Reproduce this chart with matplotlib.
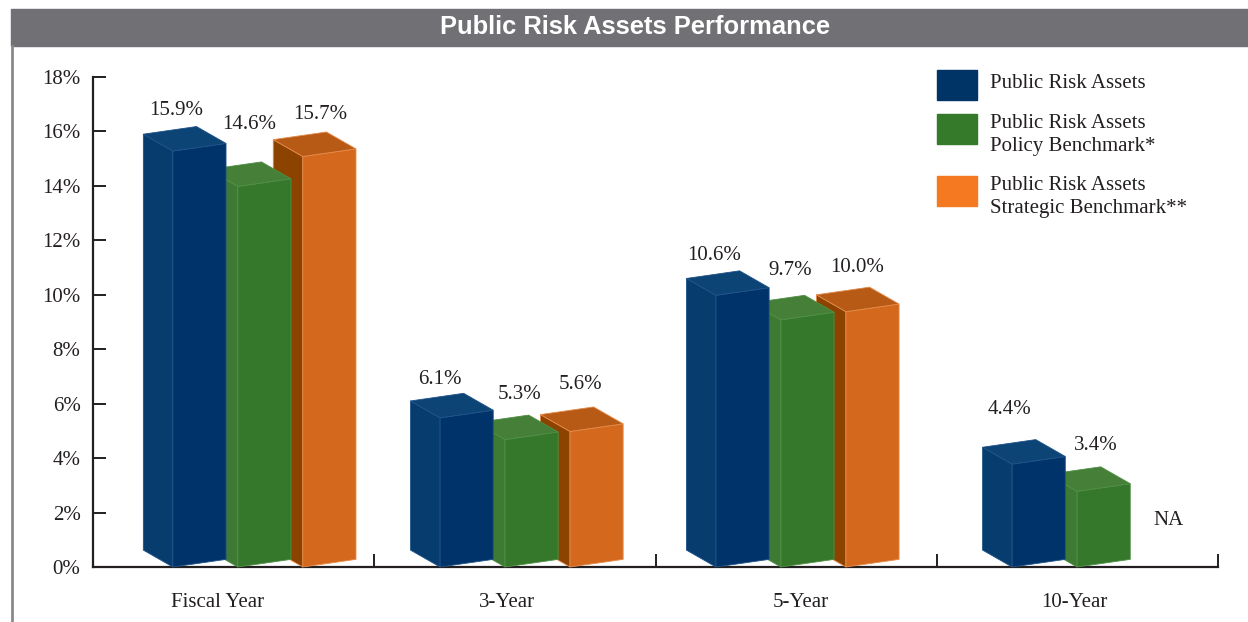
import numpy as np
import matplotlib.pyplot as plt
from matplotlib.patches import Rectangle
from matplotlib.lines import Line2D

# data
categories = ['Fiscal Year', '3-Year', '5-Year', '10-Year']
series_names = ['Public Risk Assets',
                'Public Risk Assets\nPolicy Benchmark*',
                'Public Risk Assets\nStrategic Benchmark**']
risk_assets = [15.9, 6.1, 10.6, 4.4]
policy_bm = [14.6, 5.3, 9.7, 3.4]
strategic_bm = [15.7, 5.6, 10.0, np.nan]   # 10-Year not available
yticks = [0, 2, 4, 6, 8, 10, 12, 14, 16, 18]

series = [risk_assets, policy_bm, strategic_bm]

# colours: front, side, top, legend
front_cols = ['#00336a', '#35782b', '#d4691e']
side_cols = ['#073d6e', '#3e7a33', '#8c4300']
top_cols = ['#0b4475', '#467f38', '#b75a15']
legend_cols = ['#003366', '#357a2b', '#f47920']
edge_cols = ['#1f5288', '#4f8f45', '#e58a48']

# pseudo-3d geometry (category units / percent)
W = 0.189        # front face width
STEP = 0.231     # distance between bars in a group
SDX = 0.105      # depth offset to the left
SDY = 0.62       # depth offset upward
SLOPE = 0.28     # perspective tilt of the front face
group_shift = [0.109, 0.059, 0.040, 0.093]
label_pos = [0.444, 1.472, 2.517, 3.488]
# value label placement relative to the bar (x in category units, y in %)
label_dx = [[0.012, 0.0, -0.007, -0.011],
            [0.041, 0.052, 0.032, 0.068],
            [0.062, 0.039, 0.039, 0.33]]
label_dy = [[0.88, 0.77, 0.86, 1.4],
            [1.64, 1.05, 1.19, 1.08],
            [0.91, 1.09, 1.02, 1.0]]

serif = 'Liberation Serif'
FS = 15

fig = plt.figure(figsize=(12.48, 6.22), dpi=100)
ax = fig.add_axes([93 / 1248, 55 / 622, 1125 / 1248, 490 / 622])

for i in range(len(categories)):
    x0 = i + 0.175 + group_shift[i]
    for j in reversed(range(3)):
        v = series[j][i]
        xf = x0 + j * STEP
        z = 10 - j
        if np.isnan(v):
            ax.text(xf + W / 2, 1.7, 'NA', ha='center', va='center',
                    fontsize=FS, family=serif, color='#231f20')
            continue
        side = [(xf - SDX, SDY), (xf, 0), (xf, v - SDY), (xf - SDX, v)]
        front = [(xf, 0), (xf + W, SLOPE), (xf + W, v - SDY + SLOPE), (xf, v - SDY)]
        top = [(xf, v - SDY), (xf + W, v - SDY + SLOPE), (xf + W - SDX, v + SLOPE), (xf - SDX, v)]
        for poly, col in [(side, side_cols[j]), (front, front_cols[j]), (top, top_cols[j])]:
            xs, ys = zip(*poly)
            ax.fill(xs, ys, color=col, ec=edge_cols[j], lw=0.6, zorder=z, clip_on=False)
        ax.text(xf + label_dx[j][i], v + label_dy[j][i], f'{v:.1f}%', ha='center', va='center',
                fontsize=FS, family=serif, color='#231f20')

ax.set_xlim(0, 4)
ax.set_ylim(0, 18)
ax.spines['top'].set_visible(False)
ax.spines['right'].set_visible(False)
for s in ['left', 'bottom']:
    ax.spines[s].set_color('#231f20')
    ax.spines[s].set_linewidth(1.6)

ax.set_yticks(yticks)
ax.set_yticklabels([f'{t}%' for t in yticks], family=serif, fontsize=FS, color='#231f20')
ax.tick_params(axis='y', direction='in', length=9.5, width=1.4, color='#231f20', pad=9)

ax.set_xticks(label_pos)
ax.set_xticklabels(categories, family=serif, fontsize=FS, color='#231f20')
ax.tick_params(axis='x', which='major', length=0, pad=19)
ax.set_xticks([1, 2, 3, 4], minor=True)
ax.tick_params(axis='x', which='minor', direction='in', length=9.5, width=1.4, color='#231f20')

# title bar and frame
fig.patches.append(Rectangle((11 / 1248, 1 - 45.5 / 622), 1 - 11 / 1248, 36.5 / 622,
                             transform=fig.transFigure, color='#717074', zorder=0))
fig.text(635 / 1248, 1 - 27.5 / 622, 'Public Risk Assets Performance', ha='center', va='center',
         color='white', fontsize=18.4, fontweight='bold', family='Liberation Sans')
fig.lines.append(Line2D([12 / 1248, 12 / 1248], [0, 1 - 45.5 / 622], transform=fig.transFigure,
                        color='#8a8a8a', lw=2))

# legend
sq_top = [70, 114, 176]
txt_y = [83, 135, 197]
for j in range(3):
    fig.patches.append(Rectangle((937 / 1248, 1 - (sq_top[j] + 30) / 622), 40 / 1248, 30 / 622,
                                 transform=fig.transFigure, color=legend_cols[j]))
    fig.text(990 / 1248, 1 - txt_y[j] / 622, series_names[j], ha='left', va='center',
             fontsize=FS, family=serif, color='#231f20', linespacing=1.33)

fig.savefig('out.png', dpi=100)
